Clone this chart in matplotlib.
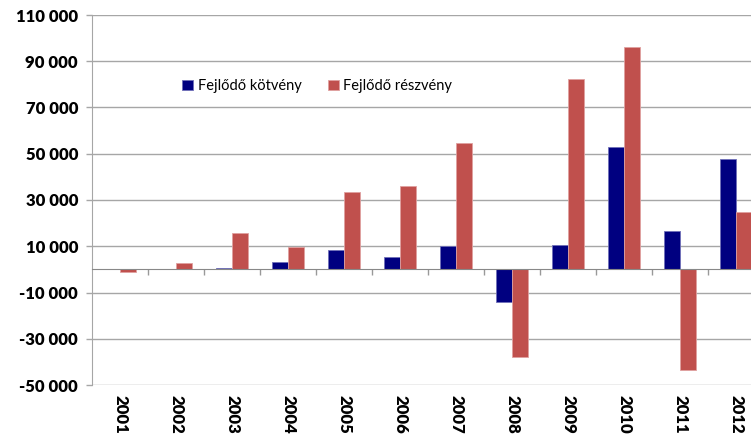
import numpy as np
import matplotlib.pyplot as plt
from matplotlib.ticker import FuncFormatter

years = ['2001', '2002', '2003', '2004', '2005', '2006',
         '2007', '2008', '2009', '2010', '2011', '2012']
kotveny = [0, 0, 600, 3300, 8300, 5500, 10300, -14300, 10600, 52800, 16600, 47900]
reszveny = [-1300, 2600, 15700, 9800, 33400, 36000, 54600, -37700, 82400, 96300, -43600, 24800]
y_ticks = np.arange(-50000, 110001, 20000)

blue = '#000080'
red = '#c0504d'
grid_col = '#a6a6a6'

fig = plt.figure(figsize=(7.51, 4.34), dpi=100)
# the plot area runs a little past the right edge of the image
ax = fig.add_axes([92 / 751, 1 - 385 / 434, 672 / 751, 370 / 434])

x = np.arange(len(years))
w = 0.29
ax.bar(x - w / 2, kotveny, w, color=blue, edgecolor='#7070b8', linewidth=0.6,
       label='Fejlődő kötvény', zorder=3)
ax.bar(x + w / 2, reszveny, w, color=red, edgecolor='#e0a0a0', linewidth=0.6,
       label='Fejlődő részvény', zorder=3)

ax.set_xlim(-0.5, len(years) - 0.5)
ax.set_ylim(-50000, 110000)
ax.set_yticks(y_ticks)
ax.yaxis.set_major_formatter(FuncFormatter(lambda v, p: f'{int(v):,}'.replace(',', ' ')))
ax.yaxis.grid(True, color=grid_col, linewidth=1, zorder=0)
ax.tick_params(axis='y', length=4, width=1, color=grid_col, pad=6)
for lab in ax.get_yticklabels():
    lab.set_fontfamily('Lato')
    lab.set_fontweight('heavy')
    lab.set_fontsize(12)

for s in ['top', 'right']:
    ax.spines[s].set_visible(False)
ax.spines['left'].set_color(grid_col)

# category axis sits on zero, with tick marks between the groups
ax.spines['bottom'].set_position(('data', 0))
ax.spines['bottom'].set_color('#888888')
ax.spines['bottom'].set_zorder(4)
ax.set_xticks(x[1:] - 0.5)
ax.set_xticklabels([])
ax.tick_params(axis='x', length=4, width=1, color='#999999', direction='out')

sec = ax.secondary_xaxis('bottom')
sec.spines['bottom'].set_visible(False)
sec.set_xticks(x)
sec.set_xticklabels(years, rotation=270, fontfamily='Lato', fontweight='heavy', fontsize=12)
sec.tick_params(length=0, pad=7)

ax.legend(loc='center left', bbox_to_anchor=(0.115, 0.808), ncol=2, frameon=False,
          handlelength=0.75, handleheight=0.75, handletextpad=0.3, columnspacing=1.8,
          prop={'family': 'Lato', 'size': 10.5})

fig.savefig('out.png', dpi=100)
